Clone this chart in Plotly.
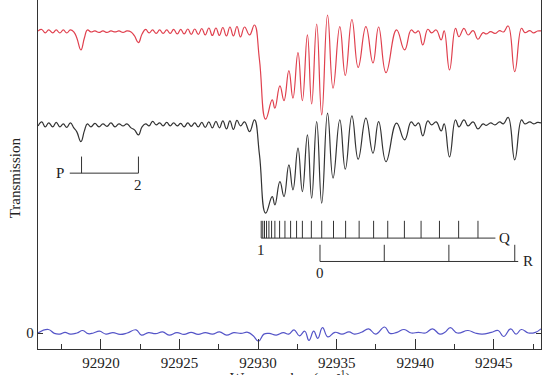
import plotly.graph_objects as go

# ---------------- data ----------------
wn_sim = [92916.01, 92916.24, 92916.46, 92916.68, 92916.94, 92917.16, 92917.39, 92917.61, 92917.83, 92918.06,
          92918.28, 92918.47, 92918.73, 92918.95, 92919.14, 92919.37, 92919.62, 92919.88, 92920.13, 92920.39,
          92920.64, 92920.90, 92921.15, 92921.41, 92921.66, 92921.92, 92922.14, 92922.39, 92922.62, 92922.85,
          92923.07, 92923.29, 92923.52, 92923.74, 92923.96, 92924.19, 92924.41, 92924.63, 92924.86, 92925.08,
          92925.30, 92925.53, 92925.75, 92925.97, 92926.20, 92926.42, 92926.64, 92926.87, 92927.09, 92927.32,
          92927.54, 92927.76, 92927.99, 92928.21, 92928.43, 92928.66, 92928.88, 92929.14, 92929.46, 92929.77,
          92930.09, 92930.48, 92930.90, 92931.07, 92931.39, 92931.65, 92931.96, 92932.22, 92932.54, 92932.82,
          92933.14, 92933.41, 92933.73, 92934.05, 92934.42, 92934.77, 92935.20, 92935.55, 92935.97, 92936.37,
          92936.86, 92937.31, 92937.67, 92938.14, 92938.81, 92939.32, 92939.74, 92939.99, 92940.21, 92940.48,
          92940.80, 92941.04, 92941.33, 92941.65, 92941.84, 92942.18, 92942.56, 92942.78, 92943.10, 92943.36,
          92943.68, 92943.99, 92944.31, 92944.52, 92944.80, 92945.07, 92945.37, 92945.61, 92945.91, 92946.33,
          92946.76, 92946.97, 92947.29, 92947.53, 92947.78, 92948.00]

red_sim = [3.023, 3.038, 3.003, 3.033, 3.003, 3.033, 3.003, 3.033, 3.003, 3.033,
           3.013, 2.953, 2.833, 2.953, 3.033, 3.013, 3.023, 3.008, 3.023, 3.008,
           3.023, 3.013, 3.023, 3.008, 3.023, 3.013, 2.973, 2.906, 2.993, 3.038,
           3.003, 3.033, 2.998, 3.033, 2.998, 3.033, 2.998, 3.038, 2.993, 3.038,
           2.993, 3.043, 2.988, 3.043, 2.988, 3.048, 2.983, 3.053, 2.978, 3.053,
           2.978, 3.058, 2.973, 3.063, 2.973, 3.068, 2.963, 3.063, 2.983, 3.083,
           2.733, 2.140, 2.333, 2.250, 2.473, 2.326, 2.626, 2.350, 2.806, 2.326,
           2.983, 2.293, 3.093, 2.183, 3.183, 2.450, 3.066, 2.578, 3.138, 2.658,
           3.066, 2.703, 3.063, 2.606, 3.033, 2.833, 3.033, 3.003, 3.023, 2.883,
           3.040, 3.003, 3.033, 2.933, 3.023, 2.633, 3.050, 2.966, 3.050, 2.983,
           3.026, 2.940, 3.006, 2.993, 3.016, 2.998, 3.026, 3.013, 3.073, 2.616,
           3.050, 3.006, 3.026, 3.003, 3.023, 3.023]

black_obs = [2.073, 2.113, 2.063, 2.103, 2.063, 2.108, 2.063, 2.093, 2.058, 2.103,
             2.053, 2.013, 1.916, 2.023, 2.093, 2.063, 2.098, 2.063, 2.093, 2.068,
             2.103, 2.063, 2.093, 2.073, 2.093, 2.053, 2.033, 1.983, 2.063, 2.093,
             2.073, 2.118, 2.083, 2.103, 2.073, 2.108, 2.073, 2.103, 2.073, 2.098,
             2.063, 2.103, 2.068, 2.103, 2.063, 2.108, 2.058, 2.113, 2.053, 2.118,
             2.053, 2.123, 2.043, 2.123, 2.038, 2.128, 2.073, 2.113, 2.016, 2.133,
             1.783, 1.200, 1.366, 1.283, 1.516, 1.366, 1.683, 1.433, 1.850, 1.416,
             1.983, 1.350, 2.116, 1.300, 2.200, 1.550, 2.133, 1.640, 2.173, 1.740,
             2.150, 1.800, 2.116, 1.716, 2.100, 1.933, 2.113, 2.073, 2.103, 1.973,
             2.123, 2.083, 2.113, 2.023, 2.093, 1.763, 2.133, 2.063, 2.133, 2.073,
             2.113, 2.043, 2.093, 2.078, 2.103, 2.083, 2.113, 2.093, 2.158, 1.733,
             2.133, 2.093, 2.113, 2.093, 2.108, 2.103]

wn_res = [92916.00, 92916.66, 92917.04, 92917.38, 92917.72, 92918.06, 92918.47, 92918.85, 92919.19, 92919.53,
          92919.91, 92920.32, 92920.77, 92921.22, 92921.68, 92922.24, 92922.58, 92923.03, 92923.48, 92923.93,
          92924.34, 92924.84, 92925.29, 92925.74, 92926.19, 92926.64, 92927.10, 92927.55, 92928.00, 92928.45,
          92928.91, 92929.35, 92929.69, 92930.03, 92930.37, 92930.71, 92931.16, 92931.61, 92931.95, 92932.29,
          92932.63, 92932.97, 92933.24, 92933.54, 92933.80, 92934.10, 92934.44, 92934.89, 92935.34, 92935.79,
          92936.13, 92936.58, 92937.03, 92937.48, 92938.05, 92938.39, 92938.84, 92939.29, 92939.75, 92940.20,
          92940.65, 92941.10, 92941.56, 92941.89, 92942.23, 92942.68, 92943.36, 92943.81, 92944.26, 92944.84,
          92945.28, 92945.62, 92946.07, 92946.41, 92946.75, 92947.20, 92947.65, 92948.00]

blue_res = [0.000, 0.035, -0.004, -0.011, 0.007, -0.011, 0.000, 0.025, -0.007, 0.000,
            0.018, -0.011, 0.004, -0.014, 0.000, 0.032, -0.021, 0.004, -0.007, 0.011,
            -0.021, 0.004, -0.014, 0.007, -0.014, 0.004, -0.011, 0.011, -0.021, 0.004,
            -0.004, 0.007, -0.028, -0.081, -0.011, -0.004, -0.021, 0.004, -0.011, 0.032,
            -0.028, 0.018, -0.074, 0.018, -0.053, 0.053, -0.039, 0.007, -0.011, 0.011,
            -0.011, 0.007, 0.042, -0.011, 0.060, -0.004, 0.007, 0.035, 0.000, 0.007,
            0.000, 0.042, -0.011, 0.007, 0.053, 0.000, 0.025, 0.000, -0.011, 0.007,
            0.025, -0.035, 0.042, -0.011, 0.035, 0.000, 0.007, 0.042]

p_lines = [92918.77, 92922.39]
q_lines = [92930.20, 92930.30, 92930.41, 92930.54, 92930.69, 92930.86, 92931.07, 92931.37, 92931.71, 92932.07,
           92932.45, 92932.82, 92933.39, 92934.05, 92934.80, 92935.57, 92936.43, 92937.35, 92938.25, 92939.31,
           92940.37, 92941.54, 92942.76, 92943.99]
r_lines = [92933.94, 92938.03, 92942.14, 92946.33]

x_ticks = [92920, 92925, 92930, 92935, 92940, 92945]

# ---------------- figure ----------------
SERIF = "Liberation Serif, Times New Roman, serif"
fig = go.Figure()

spline = dict(width=1.2, shape="spline", smoothing=1.3)
fig.add_trace(go.Scatter(x=wn_sim, y=red_sim, mode="lines", line=dict(color="#e0404e", **spline),
                         hoverinfo="skip", showlegend=False))
fig.add_trace(go.Scatter(x=wn_sim, y=black_obs, mode="lines", line=dict(color="#333333", **spline),
                         hoverinfo="skip", showlegend=False))
fig.add_trace(go.Scatter(x=wn_res, y=blue_res, mode="lines", line=dict(color="#5555c8", **spline),
                         hoverinfo="skip", showlegend=False))


def branch(lines, y_bar, y_top, x_start, x_end):
    xs, ys = [x_start, x_end, None], [y_bar, y_bar, None]
    for v in lines:
        xs += [v, v, None]
        ys += [y_top, y_bar, None]
    return xs, ys


P_Y, P_TOP = 1.60, 1.766
Q_Y, Q_TOP = 0.95, 1.123
R_Y, R_TOP = 0.716, 0.883

px, py = branch(p_lines, P_Y, P_TOP, 92918.02, p_lines[-1])
qx, qy = branch(q_lines, Q_Y, Q_TOP, q_lines[0], 92945.1)
rx, ry = branch(r_lines, R_Y, R_TOP, r_lines[0], 92946.55)
for xs, ys in [(px, py), (qx, qy), (rx, ry)]:
    fig.add_trace(go.Scatter(x=xs, y=ys, mode="lines", line=dict(color="#333333", width=1),
                             hoverinfo="skip", showlegend=False))

lab = dict(font=dict(family=SERIF, size=15, color="#222"), showarrow=False)
fig.add_annotation(x=92917.8, y=P_Y, text="P", xanchor="right", yanchor="middle", **lab)
fig.add_annotation(x=p_lines[-1], y=P_Y - 0.02, text="2", xanchor="center", yanchor="top", **lab)
fig.add_annotation(x=92945.2, y=Q_Y, text="Q", xanchor="left", yanchor="middle", **lab)
fig.add_annotation(x=q_lines[0], y=Q_Y - 0.02, text="1", xanchor="center", yanchor="top", **lab)
fig.add_annotation(x=92946.7, y=R_Y, text="R", xanchor="left", yanchor="middle", **lab)
fig.add_annotation(x=r_lines[0], y=R_Y - 0.02, text="0", xanchor="center", yanchor="top", **lab)

fig.add_annotation(x=0.5, xref="paper", y=-0.05, yref="paper", text="Wavenumber (cm<sup>-1</sup>)",
                   xanchor="center", yanchor="top", **lab)
fig.add_annotation(x=-0.045, xref="paper", y=0.49, yref="paper", text="Transmission", textangle=-90,
                   xanchor="center", yanchor="middle", **lab)

fig.update_layout(
    width=555, height=375,
    margin=dict(l=38, r=14, t=0, b=26),
    paper_bgcolor="white", plot_bgcolor="white",
    font=dict(family=SERIF, size=15, color="#222"),
    xaxis=dict(range=[92916, 92948], tickvals=x_ticks, tickformat="d", ticks="inside", ticklen=10,
               tickwidth=1, tickcolor="#333", showline=True, linecolor="#333", linewidth=1.3, mirror=False,
               showgrid=False, zeroline=False,
               minor=dict(dtick=2.5, tick0=92915, ticks="inside", ticklen=5, tickcolor="#333", showgrid=False),
               tickfont=dict(family=SERIF, size=15, color="#222")),
    yaxis=dict(range=[-0.16, 3.333], tickvals=[0], ticktext=["0"], ticks="inside", ticklen=5,
               tickcolor="#333", showline=True, linecolor="#333", linewidth=1.3, mirror="ticks",
               showgrid=False, zeroline=False, tickfont=dict(family=SERIF, size=15, color="#222")),
)

fig.write_html("out.html")
